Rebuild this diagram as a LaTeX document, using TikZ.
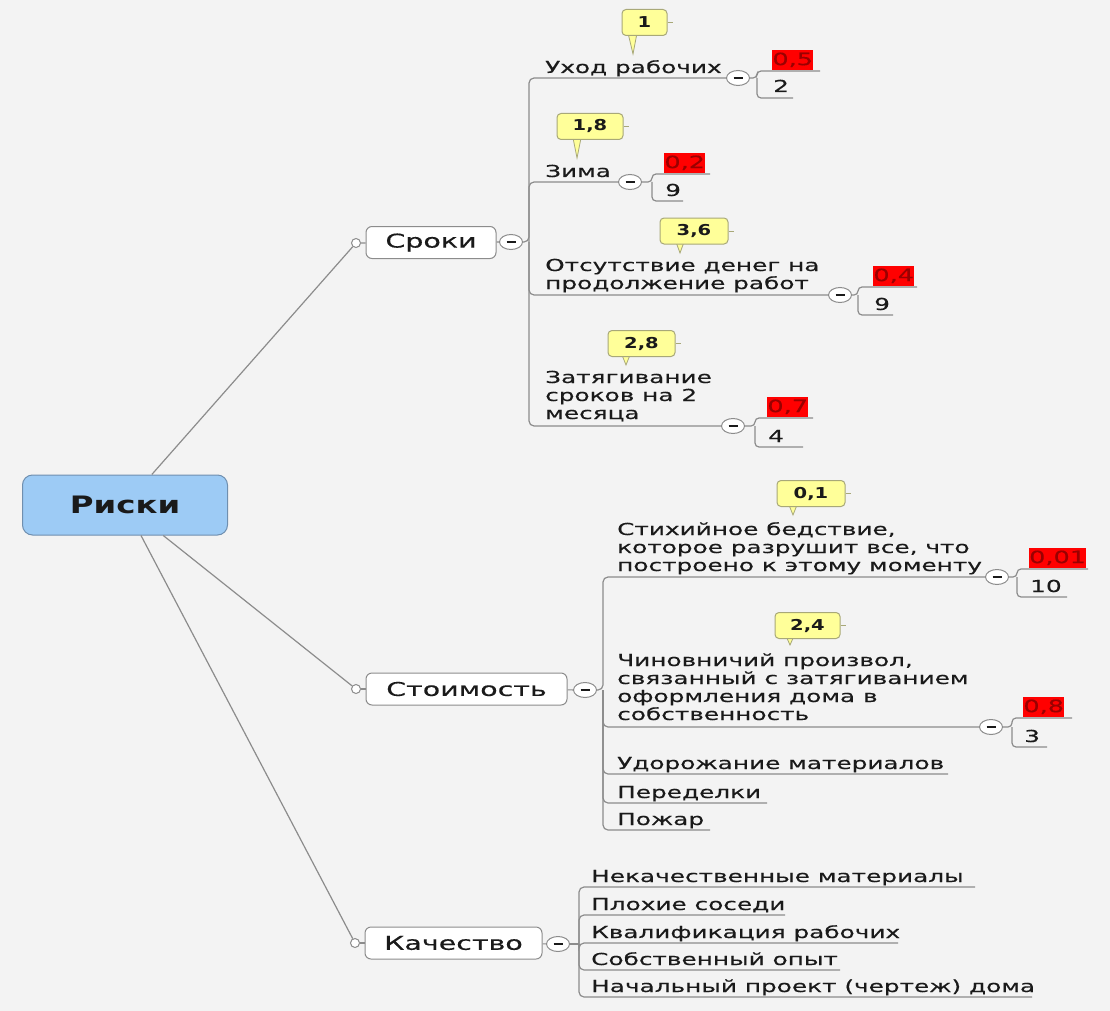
\documentclass[tikz,border=0pt]{standalone}
\usepackage{fontspec}
\setmainfont[FakeStretch=1.5,FakeBold=0.35]{DejaVu Sans}
\newfontfamily\rootfont[FakeStretch=1.35]{DejaVu Sans}
\newfontfamily\callfont[FakeStretch=1.3]{DejaVu Sans}
\usetikzlibrary{shapes.geometric}
\definecolor{bg}{HTML}{F3F3F3}
\definecolor{ln}{HTML}{8C8C8C}
\definecolor{rootfill}{HTML}{9DCBF5}
\definecolor{rootdraw}{HTML}{6F8FAF}
\definecolor{callfill}{HTML}{FFFF99}
\definecolor{calldraw}{HTML}{A8A878}
\definecolor{redfill}{HTML}{FF0000}
\definecolor{redtext}{HTML}{9A0000}
\definecolor{txt}{HTML}{1A1A1A}
\tikzset{
  conn/.style={draw=ln, line width=1.2pt},
  rootbox/.style={draw=rootdraw, fill=rootfill, line width=1pt, rounded corners=10pt,
    minimum width=205pt, minimum height=60pt, inner sep=0pt,
    font=\rootfont\bfseries\fontsize{24}{28}\selectfont, text=txt},
  topic/.style={draw=ln, fill=white, line width=1pt, rounded corners=6pt, inner sep=0pt,
    minimum height=32pt, font=\fontsize{19}{22}\selectfont, text=txt},
  dot/.style={circle, draw=ln, fill=white, line width=1pt, minimum size=9pt, inner sep=0pt},
  minus/.style={ellipse, draw=ln, fill=white, line width=1pt, minimum width=23pt,
    minimum height=15pt, inner sep=0pt,
    path picture={\draw[txt, line width=1.2pt]
      ([xshift=-4.5pt]path picture bounding box.center) --
      ([xshift=4.5pt]path picture bounding box.center);}},
  lbl/.style={anchor=base west, inner sep=0pt, align=left, text=txt,
    font=\fontsize{16.5}{18}\selectfont},
  callout/.style={draw=calldraw, fill=callfill, line width=1pt, rounded corners=4pt,
    minimum height=26pt, inner sep=0pt, text=txt,
    font=\callfont\bfseries\fontsize{15}{17}\selectfont},
  calltail/.style={fill=callfill, draw=calldraw, line width=0.8pt},
  redlbl/.style={anchor=south west, fill=redfill, text=redtext, inner sep=0pt,
    minimum width=41pt, minimum height=20pt, font=\fontsize{17}{19}\selectfont},
}
\begin{document}
\begin{tikzpicture}[x=1pt, y=-1pt]
\fill[bg] (0,0) rectangle (1110,1011);
\useasboundingbox (0,0) rectangle (1110,1011);

% ---------- root and topics ----------
\node[rootbox] (root) at (125,505) {Риски};

\node[dot] (srkdot) at (356,243) {};
\node[topic, minimum width=130pt] (srk) at (431,242.5) {Сроки};
\node[minus] (srkm) at (511,242) {};

\node[dot] (stdot) at (356,689) {};
\node[topic, minimum width=201pt] (st) at (466.5,689) {Стоимость};
\node[minus] (stm) at (585,690) {};

\node[dot] (kdot) at (355,943) {};
\node[topic, minimum width=177pt] (kach) at (453.5,943) {Качество};
\node[minus] (km) at (558,944) {};

\draw[conn] (root) -- (srkdot);
\draw[conn] (root) -- (stdot);
\draw[conn] (root) -- (kdot);
\draw[conn] (srkdot) -- (srk);
\draw[conn] (stdot) -- (st);
\draw[conn] (kdot) -- (kach);
\draw[conn] (srk) -- (srkm);
\draw[conn] (st) -- (stm);
\draw[conn] (kach) -- (km);

% ---------- Сроки branch ----------
\coordinate (srkj) at (529,242);
\node[minus] (uxm) at (738,78) {};
\node[minus] (zim) at (630,182) {};
\node[minus] (otm) at (840,295) {};
\node[minus] (zam) at (733,426) {};
\draw[conn, rounded corners=5pt] (srkm) -- (srkj) |- (uxm);
\draw[conn, rounded corners=5pt] (srkj) |- (zim);
\draw[conn, rounded corners=5pt] (srkj) |- (otm);
\draw[conn, rounded corners=5pt] (srkj) |- (zam);

\node[lbl] (ux) at (545,73) {Уход рабочих};
\node[lbl] (zi) at (545,177) {Зима};
\node[lbl] (ot) at (545,289) {Отсутствие денег на\\продолжение работ};
\node[lbl] (za) at (545,419) {Затягивание\\сроков на 2\\месяца};

% ---------- Стоимость branch ----------
\coordinate (stj) at (603,690);
\node[minus] (sxm) at (997,577) {};
\node[minus] (chm) at (991,727) {};
\coordinate (udE) at (948,774);
\coordinate (peE) at (767,803);
\coordinate (poE) at (710,830);
\draw[conn, rounded corners=5pt] (stm) -- (stj) |- (sxm);
\draw[conn, rounded corners=5pt] (stj) |- (chm);
\draw[conn, rounded corners=5pt] (stj) |- (udE);
\draw[conn, rounded corners=5pt] (stj) |- (peE);
\draw[conn, rounded corners=5pt] (stj) |- (poE);

\node[lbl] (sx) at (617,571) {Стихийное бедствие,\\которое разрушит все, что\\построено к этому моменту};
\node[lbl] (ch) at (617,720) {Чиновничий произвол,\\связанный с затягиванием\\оформления дома в\\собственность};
\node[lbl] (ud) at (617,769) {Удорожание материалов};
\node[lbl] (pe) at (617,798) {Переделки};
\node[lbl] (po) at (617,825) {Пожар};

% ---------- Качество branch ----------
\coordinate (kj) at (579,944);
\coordinate (k1E) at (975,887);
\coordinate (k2E) at (785,915);
\coordinate (k3E) at (898,943);
\coordinate (k4E) at (840,970);
\coordinate (k5E) at (1032,997);
\draw[conn] (km) -- (kj);
\draw[conn, rounded corners=5pt] (kj) |- (k1E);
\draw[conn, rounded corners=5pt] (kj) |- (k2E);
\draw[conn, rounded corners=5pt] (kj) |- (k3E);
\draw[conn, rounded corners=5pt] (kj) |- (k4E);
\draw[conn, rounded corners=5pt] (kj) |- (k5E);

\node[lbl] (k1) at (591,882) {Некачественные материалы};
\node[lbl] (k2) at (591,910) {Плохие соседи};
\node[lbl] (k3) at (591,938) {Квалификация рабочих};
\node[lbl] (k4) at (591,965) {Собственный опыт};
\node[lbl] (k5) at (591,992) {Начальный проект (чертеж) дома};

% ---------- sub brackets (red / number) ----------
\coordinate (uxv) at (757,78);
\coordinate (uxa) at (820,71);
\coordinate (uxb) at (793,98);
\draw[conn, rounded corners=4pt] (uxm) -- (uxv) |- (uxa);
\draw[conn, rounded corners=4pt] (uxv) |- (uxb);
\node[redlbl] (uxr) at (772,70) {0,5};
\node[lbl] (uxn) at (773,92) {2};

\coordinate (ziv) at (652,182);
\coordinate (zia) at (710,174);
\coordinate (zib) at (683,201);
\draw[conn, rounded corners=4pt] (zim) -- (ziv) |- (zia);
\draw[conn, rounded corners=4pt] (ziv) |- (zib);
\node[redlbl] (zir) at (664,173) {0,2};
\node[lbl] (zin) at (665,196) {9};

\coordinate (otv) at (858,295);
\coordinate (ota) at (917,287);
\coordinate (otb) at (893,315);
\draw[conn, rounded corners=4pt] (otm) -- (otv) |- (ota);
\draw[conn, rounded corners=4pt] (otv) |- (otb);
\node[redlbl] (otr) at (873,286) {0,4};
\node[lbl] (otn) at (874,310) {9};

\coordinate (zav) at (755,426);
\coordinate (zaa) at (813,418);
\coordinate (zab) at (803,447);
\draw[conn, rounded corners=4pt] (zam) -- (zav) |- (zaa);
\draw[conn, rounded corners=4pt] (zav) |- (zab);
\node[redlbl] (zar) at (767,417) {0,7};
\node[lbl] (zan) at (768,442) {4};

\coordinate (sxv) at (1017,577);
\coordinate (sxa) at (1088,569);
\coordinate (sxb) at (1067,597);
\draw[conn, rounded corners=4pt] (sxm) -- (sxv) |- (sxa);
\draw[conn, rounded corners=4pt] (sxv) |- (sxb);
\node[redlbl, minimum width=55pt] (sxr) at (1029,568) {0,01};
\node[lbl] (sxn) at (1030,592) {10};

\coordinate (chv) at (1012,727);
\coordinate (cha) at (1072,718);
\coordinate (chb) at (1047,747);
\draw[conn, rounded corners=4pt] (chm) -- (chv) |- (cha);
\draw[conn, rounded corners=4pt] (chv) |- (chb);
\node[redlbl] (chr) at (1023,717) {0,8};
\node[lbl] (chn) at (1024,742) {3};

% ---------- callouts ----------
\fill[calltail] (628,33) -- (633,54) -- (637,33);
\node[callout, minimum width=45pt] (c1) at (644.5,22.5) {1};
\draw[calldraw, line width=1pt] (c1.east) -- ++(5,0);

\fill[calltail] (573,138) -- (577,158) -- (581,138);
\node[callout, minimum width=66pt] (c18) at (590,126.5) {1,8};
\draw[calldraw, line width=1pt] (c18.east) -- ++(5,0);

\fill[calltail] (676,242) -- (680,253) -- (684,242);
\node[callout, minimum width=68pt] (c36) at (694,231) {3,6};
\draw[calldraw, line width=1pt] (c36.east) -- ++(5,0);

\fill[calltail] (622,355) -- (626,365) -- (630,355);
\node[callout, minimum width=67pt] (c28) at (641.5,343.5) {2,8};
\draw[calldraw, line width=1pt] (c28.east) -- ++(5,0);

\fill[calltail] (789,505) -- (793,515) -- (797,505);
\node[callout, minimum width=68pt] (c01) at (811,493.5) {0,1};
\draw[calldraw, line width=1pt] (c01.east) -- ++(5,0);

\fill[calltail] (786,636) -- (790,645) -- (794,636);
\node[callout, minimum width=65pt] (c24) at (807.5,625.5) {2,4};
\draw[calldraw, line width=1pt] (c24.east) -- ++(5,0);
\end{tikzpicture}
\end{document}
